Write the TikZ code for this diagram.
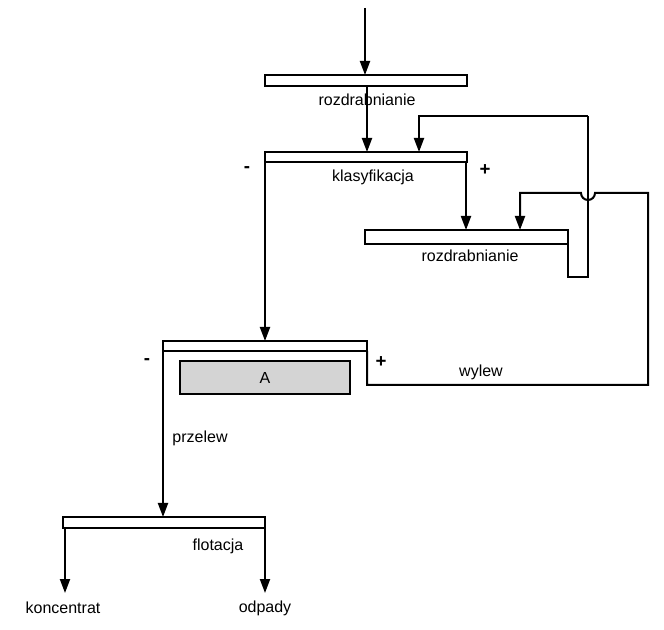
\documentclass[tikz,border=0pt]{standalone}
\usepackage{fontspec}
\setmainfont{Liberation Sans}
\usetikzlibrary{arrows.meta}
\begin{document}
\begin{tikzpicture}[x=0.75pt,y=-0.75pt,line width=1.5pt,
  bar/.style={draw,fill=white,line width=1.2pt},
  arr/.style={-{Triangle[length=10.5pt,width=7.5pt]}},
  lbl/.style={font=\fontsize{12}{14}\selectfont},
  sg/.style={font=\fontsize{14}{16}\selectfont\bfseries}]
\useasboundingbox (0,0) rectangle (664,630);
% bars
\draw[bar] (265,75) rectangle (467,86);
\draw[bar] (265,152) rectangle (467,162);
\draw[bar] (365,230) rectangle (568,244);
\draw[bar] (163,341) rectangle (367,351);
\draw[bar] (63,517) rectangle (265,528);
\node[draw,line width=1.2pt,fill=black!17,minimum width=127.5pt,minimum height=24.75pt,inner sep=0pt,lbl] (A) at (265,377.5) {A};
% coordinates
\coordinate (in) at (365,8);
\coordinate (b1) at (365,75);
\coordinate (b1o) at (367,86);
\coordinate (b2i) at (367,152);
\coordinate (r1) at (588,116);
\coordinate (r2) at (419,116);
\coordinate (r3) at (419,152);
\coordinate (k1) at (466,162);
\coordinate (k2) at (466,230);
\coordinate (h1) at (568,244);
\coordinate (h2) at (568,277);
\coordinate (h3) at (588,277);
\coordinate (km) at (265,162);
\coordinate (kmo) at (265,341);
\coordinate (wl) at (367,351);
\coordinate (w1) at (367,385);
\coordinate (w2) at (648,385);
\coordinate (w3) at (648,193);
\coordinate (w4) at (520,193);
\coordinate (w5) at (520,230);
\coordinate (p1) at (163,351);
\coordinate (p2) at (163,517);
\coordinate (f1) at (65,528);
\coordinate (f2) at (65,593);
\coordinate (f3) at (265,528);
\coordinate (f4) at (265,593);
% connectors
\draw[arr] (in) -- (b1);
\draw[arr] (b1o) -- (b2i);
\draw[line width=1.2pt] (h1) -- (h2) -- (h3) -- (r1);
\draw[arr] (r1) -- (r2) -- (r3);
\draw[arr] (k1) -- (k2);
\draw[arr] (km) -- (kmo);
\draw[arr] (wl) -- (w1) -- (w2) -- (w3) -- (595,193) arc[start angle=0,end angle=180,radius=7] -- (w4) -- (w5);
\draw[arr] (p1) -- (p2);
\draw[arr] (f1) -- (f2);
\draw[arr] (f3) -- (f4);
% labels
\node[lbl] (t1) at (367,100) {rozdrabnianie};
\node[lbl] (t2) at (373,177) {klasyfikacja};
\node[lbl] (t3) at (470,256) {rozdrabnianie};
\node[lbl] (t4) at (481,372) {wylew};
\node[lbl] (t5) at (200,438) {przelew};
\node[lbl] (t6) at (218,546) {flotacja};
\node[lbl] (t7) at (63,608) {koncentrat};
\node[lbl] (t8) at (265,608) {odpady};
\node[sg] (m1) at (247,170) {-};
\node[sg] (p1l) at (485,170) {+};
\node[sg] (m2) at (147,362) {-};
\node[sg] (p2l) at (381,362) {+};
\end{tikzpicture}
\end{document}
